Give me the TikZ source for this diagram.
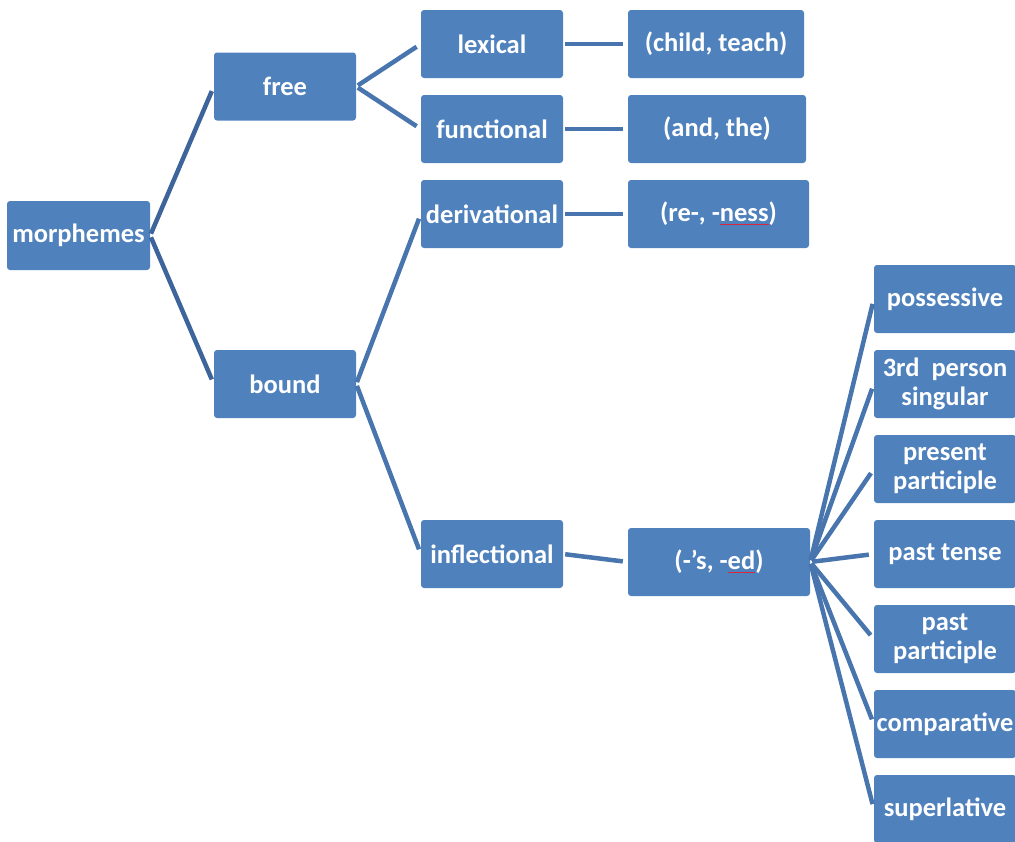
\documentclass[tikz,border=0pt]{standalone}
\usepackage{fontspec}
\setmainfont{Carlito}
\definecolor{boxblue}{RGB}{79,129,189}
\definecolor{lineblue}{RGB}{72,117,174}
\definecolor{darkline}{RGB}{62,100,156}
\definecolor{squigred}{RGB}{220,40,60}
\newcommand{\squig}[1]{\setbox0\hbox{#1}\rlap{\textcolor{squigred}{\rule[-2.5pt]{\wd0}{0.8pt}}}\box0}
\begin{document}
\begin{tikzpicture}[x=1pt,y=-1pt,
  box/.style={fill=boxblue,rounded corners=3pt,text=white,font=\fontsize{26.5}{29}\selectfont\bfseries,
    minimum width=142pt,minimum height=68pt,inner sep=0pt,align=center,anchor=center},
  conn/.style={draw=lineblue,line width=4.5pt,shorten <=2pt,shorten >=5pt},
  dconn/.style={conn,draw=darkline}]
\useasboundingbox (0,0) rectangle (1015,841);
\node[box,minimum width=143pt,minimum height=69pt] (morph) at (78.5,235.5) {morphemes};
\node[box] (free) at (285,86.5) {free};
\node[box] (bound) at (285,384) {bound};
\node[box] (lex) at (492,44) {lexical};
\node[box] (fun) at (492,129) {functional};
\node[box] (der) at (492,214) {derivational};
\node[box] (inf) at (492,554) {inflectional};
\node[box,minimum width=176pt] (child) at (716,44) {(child, teach)};
\node[box,minimum width=178pt] (andthe) at (717,129) {(and, the)};
\node[box,minimum width=181pt] (rene) at (718.5,214) {(re-, -\squig{ness})};
\node[box,minimum width=182pt] (sed) at (719,562) {(-’s, -\squig{ed})};
\node[box] (pos) at (945,299) {possessive};
\node[box] (third) at (945,384) {3rd~~person\\singular};
\node[box] (prp) at (945,469) {present\\participle};
\node[box] (pt) at (945,554) {past tense};
\node[box] (pp) at (945,639) {past\\participle};
\node[box] (comp) at (945,724) {comparative};
\node[box] (sup) at (945,809) {superlative};
\draw[dconn] (morph.east) -- (free.west);
\draw[dconn] (morph.east) -- (bound.west);
\draw[conn] (free.east) -- (lex.west);
\draw[conn] (free.east) -- (fun.west);
\draw[conn] (bound.east) -- (der.west);
\draw[conn] (bound.east) -- (inf.west);
\draw[conn] (lex.east) -- (child.west);
\draw[conn] (fun.east) -- (andthe.west);
\draw[conn] (der.east) -- (rene.west);
\draw[conn] (inf.east) -- (sed.west);
\foreach \t in {pos,third,prp,pt,pp,comp,sup}
  \draw[conn] (sed.east) -- (\t.west);
\end{tikzpicture}
\end{document}
